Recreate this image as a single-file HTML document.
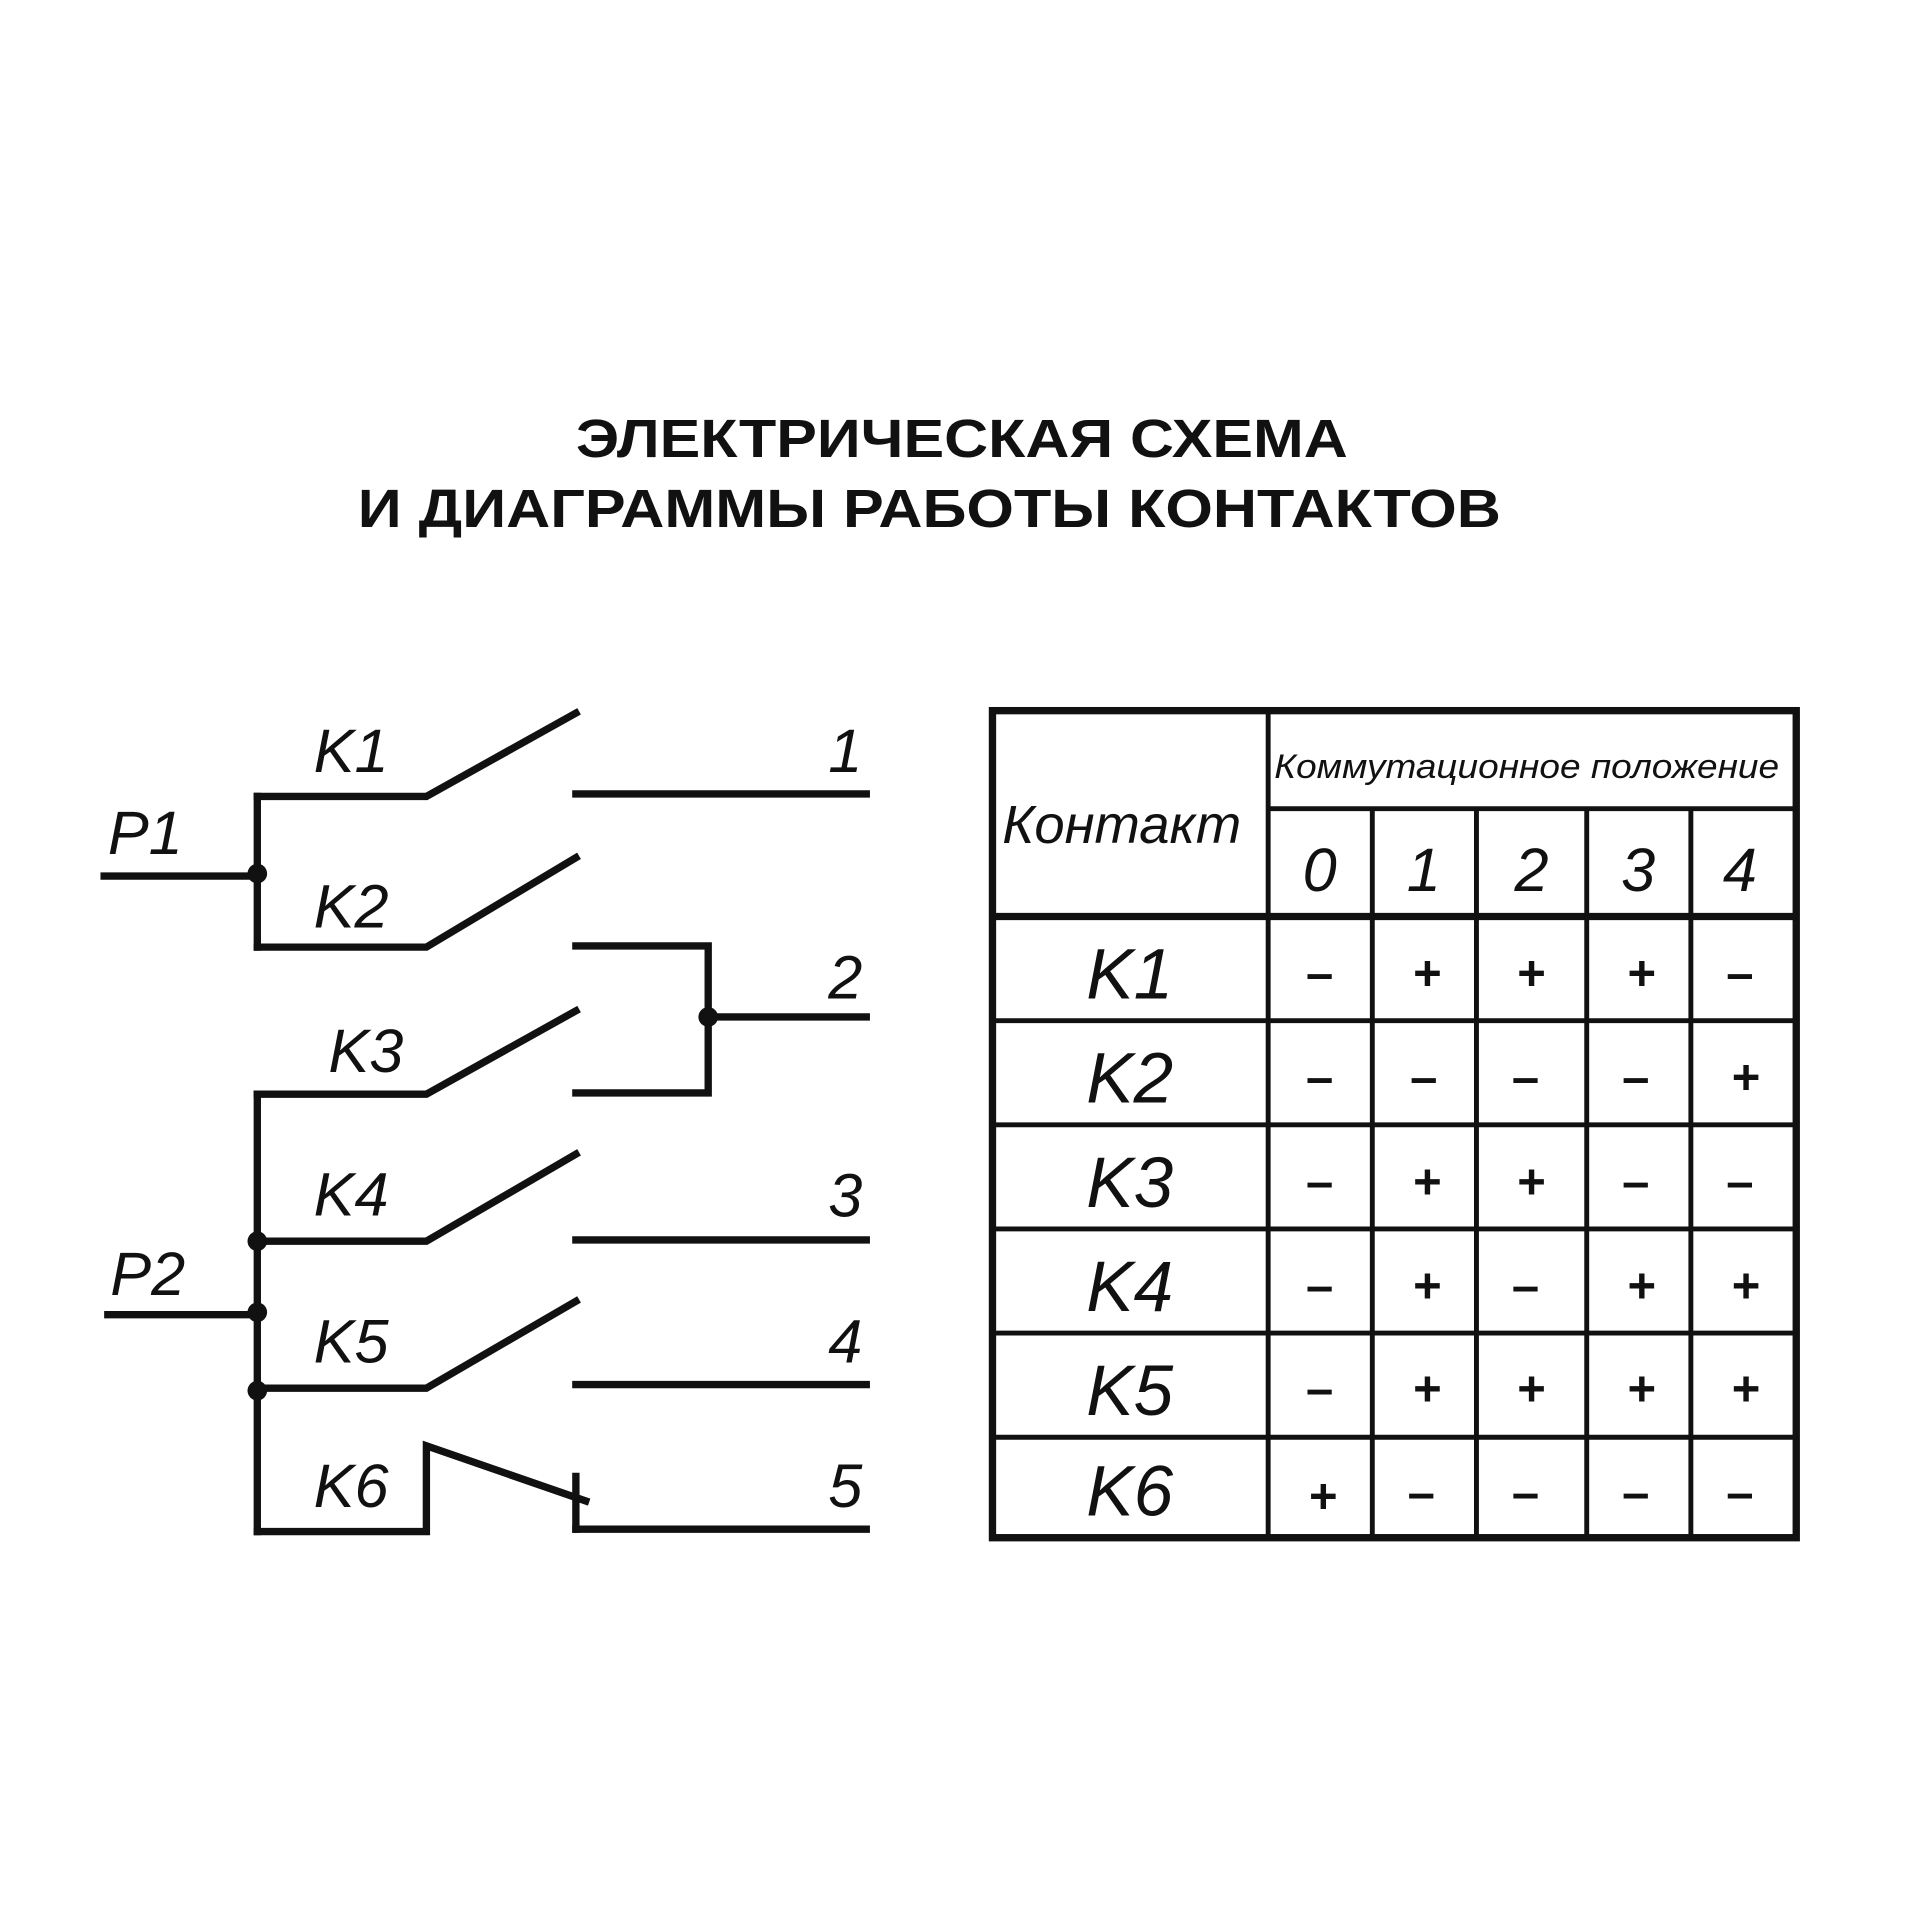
<!DOCTYPE html>
<html><head><meta charset="utf-8"><style>html,body{margin:0;padding:0;background:#fff}svg{display:block}</style></head>
<body>
<svg width="1920" height="1920" viewBox="0 0 1567 1567" xmlns="http://www.w3.org/2000/svg">
<rect width="1567" height="1567" fill="#fff"/>
<g font-family="Liberation Sans, DejaVu Sans, sans-serif" font-weight="bold" fill="#111">
<text x="470" y="373" font-size="44" textLength="630" lengthAdjust="spacingAndGlyphs">ЭЛЕКТРИЧЕСКАЯ СХЕМА</text>
<text x="292" y="430" font-size="44" textLength="933" lengthAdjust="spacingAndGlyphs">И ДИАГРАММЫ РАБОТЫ КОНТАКТОВ</text>
</g>
<g stroke="#111" stroke-width="6" fill="none" stroke-linecap="square">
<line x1="85" y1="715" x2="210" y2="715"/>
<line x1="210" y1="650" x2="210" y2="773"/>
<polyline points="210,650 348,650 470,582"/>
<polyline points="210,773 348,773 470,700"/>
<line x1="470" y1="648" x2="707" y2="648"/>
<polyline points="470,772 578,772 578,892 470,892"/>
<line x1="578" y1="830" x2="707" y2="830"/>
<line x1="210" y1="893" x2="210" y2="1250"/>
<polyline points="210,893 348,893 470,825"/>
<polyline points="210,1013 348,1013 470,942"/>
<line x1="470" y1="1012" x2="707" y2="1012"/>
<line x1="88" y1="1073" x2="210" y2="1073"/>
<polyline points="210,1133 348,1133 470,1062"/>
<line x1="470" y1="1130" x2="707" y2="1130"/>
<polyline points="210,1250 348,1250 348,1180 478,1225"/>
<line x1="470" y1="1205" x2="470" y2="1248"/>
<line x1="470" y1="1248" x2="707" y2="1248"/>
</g>
<g fill="#111">
<circle cx="210" cy="713" r="8"/>
<circle cx="578" cy="830" r="8"/>
<circle cx="210" cy="1013" r="8"/>
<circle cx="210" cy="1071" r="8"/>
<circle cx="210" cy="1135" r="8"/>
</g>
<g font-family="Liberation Sans, DejaVu Sans, sans-serif" font-style="italic" font-size="50" fill="#111">
<text x="256" y="630">K1</text>
<text x="256" y="757">K2</text>
<text x="268" y="875">K3</text>
<text x="256" y="992">K4</text>
<text x="256" y="1112">K5</text>
<text x="256" y="1230">K6</text>
<text x="88" y="697">P1</text>
<text x="90" y="1057">P2</text>
<text x="676" y="630">1</text>
<text x="676" y="815">2</text>
<text x="676" y="993">3</text>
<text x="676" y="1112">4</text>
<text x="676" y="1230">5</text>
</g>
<g stroke="#111" fill="none">
<rect x="810" y="580" width="656" height="675" stroke-width="6"/>
<line x1="1035" y1="580" x2="1035" y2="1255" stroke-width="4"/>
<line x1="1035" y1="660" x2="1466" y2="660" stroke-width="4"/>
<line x1="810" y1="748" x2="1466" y2="748" stroke-width="6"/>
<g stroke-width="4">
<line x1="1120" y1="660" x2="1120" y2="1255"/>
<line x1="1205" y1="660" x2="1205" y2="1255"/>
<line x1="1295" y1="660" x2="1295" y2="1255"/>
<line x1="1380" y1="660" x2="1380" y2="1255"/>
<line x1="810" y1="833" x2="1466" y2="833"/>
<line x1="810" y1="918" x2="1466" y2="918"/>
<line x1="810" y1="1003" x2="1466" y2="1003"/>
<line x1="810" y1="1088" x2="1466" y2="1088"/>
<line x1="810" y1="1173" x2="1466" y2="1173"/>
</g>
</g>
<g font-family="Liberation Sans, DejaVu Sans, sans-serif" font-style="italic" fill="#111">
<text x="818" y="688" font-size="44" textLength="195" lengthAdjust="spacingAndGlyphs">Контакт</text>
<text x="1040" y="635" font-size="28" textLength="412" lengthAdjust="spacingAndGlyphs">Коммутационное положение</text>
<g font-size="50" text-anchor="middle">
<text x="1077" y="727">0</text><text x="1162" y="727">1</text><text x="1250" y="727">2</text><text x="1337" y="727">3</text><text x="1420" y="727">4</text>
<text x="922" y="815" font-size="58">K1</text>
<text x="922" y="900" font-size="58">K2</text>
<text x="922" y="985" font-size="58">K3</text>
<text x="922" y="1070" font-size="58">K4</text>
<text x="922" y="1155" font-size="58">K5</text>
<text x="922" y="1237" font-size="58">K6</text>
</g>
<g font-size="40" font-style="normal" font-weight="bold" text-anchor="middle">
<text x="1077" y="808">–</text><text x="1165" y="808">+</text><text x="1250" y="808">+</text><text x="1340" y="808">+</text><text x="1420" y="808">–</text>
<text x="1077" y="893">–</text><text x="1162" y="893">–</text><text x="1245" y="893">–</text><text x="1335" y="893">–</text><text x="1425" y="893">+</text>
<text x="1077" y="978">–</text><text x="1165" y="978">+</text><text x="1250" y="978">+</text><text x="1335" y="978">–</text><text x="1420" y="978">–</text>
<text x="1077" y="1063">–</text><text x="1165" y="1063">+</text><text x="1245" y="1063">–</text><text x="1340" y="1063">+</text><text x="1425" y="1063">+</text>
<text x="1077" y="1147">–</text><text x="1165" y="1147">+</text><text x="1250" y="1147">+</text><text x="1340" y="1147">+</text><text x="1425" y="1147">+</text>
<text x="1080" y="1235">+</text><text x="1160" y="1232">–</text><text x="1245" y="1232">–</text><text x="1335" y="1232">–</text><text x="1420" y="1232">–</text>
</g>
</g>
</svg>
</body></html>
